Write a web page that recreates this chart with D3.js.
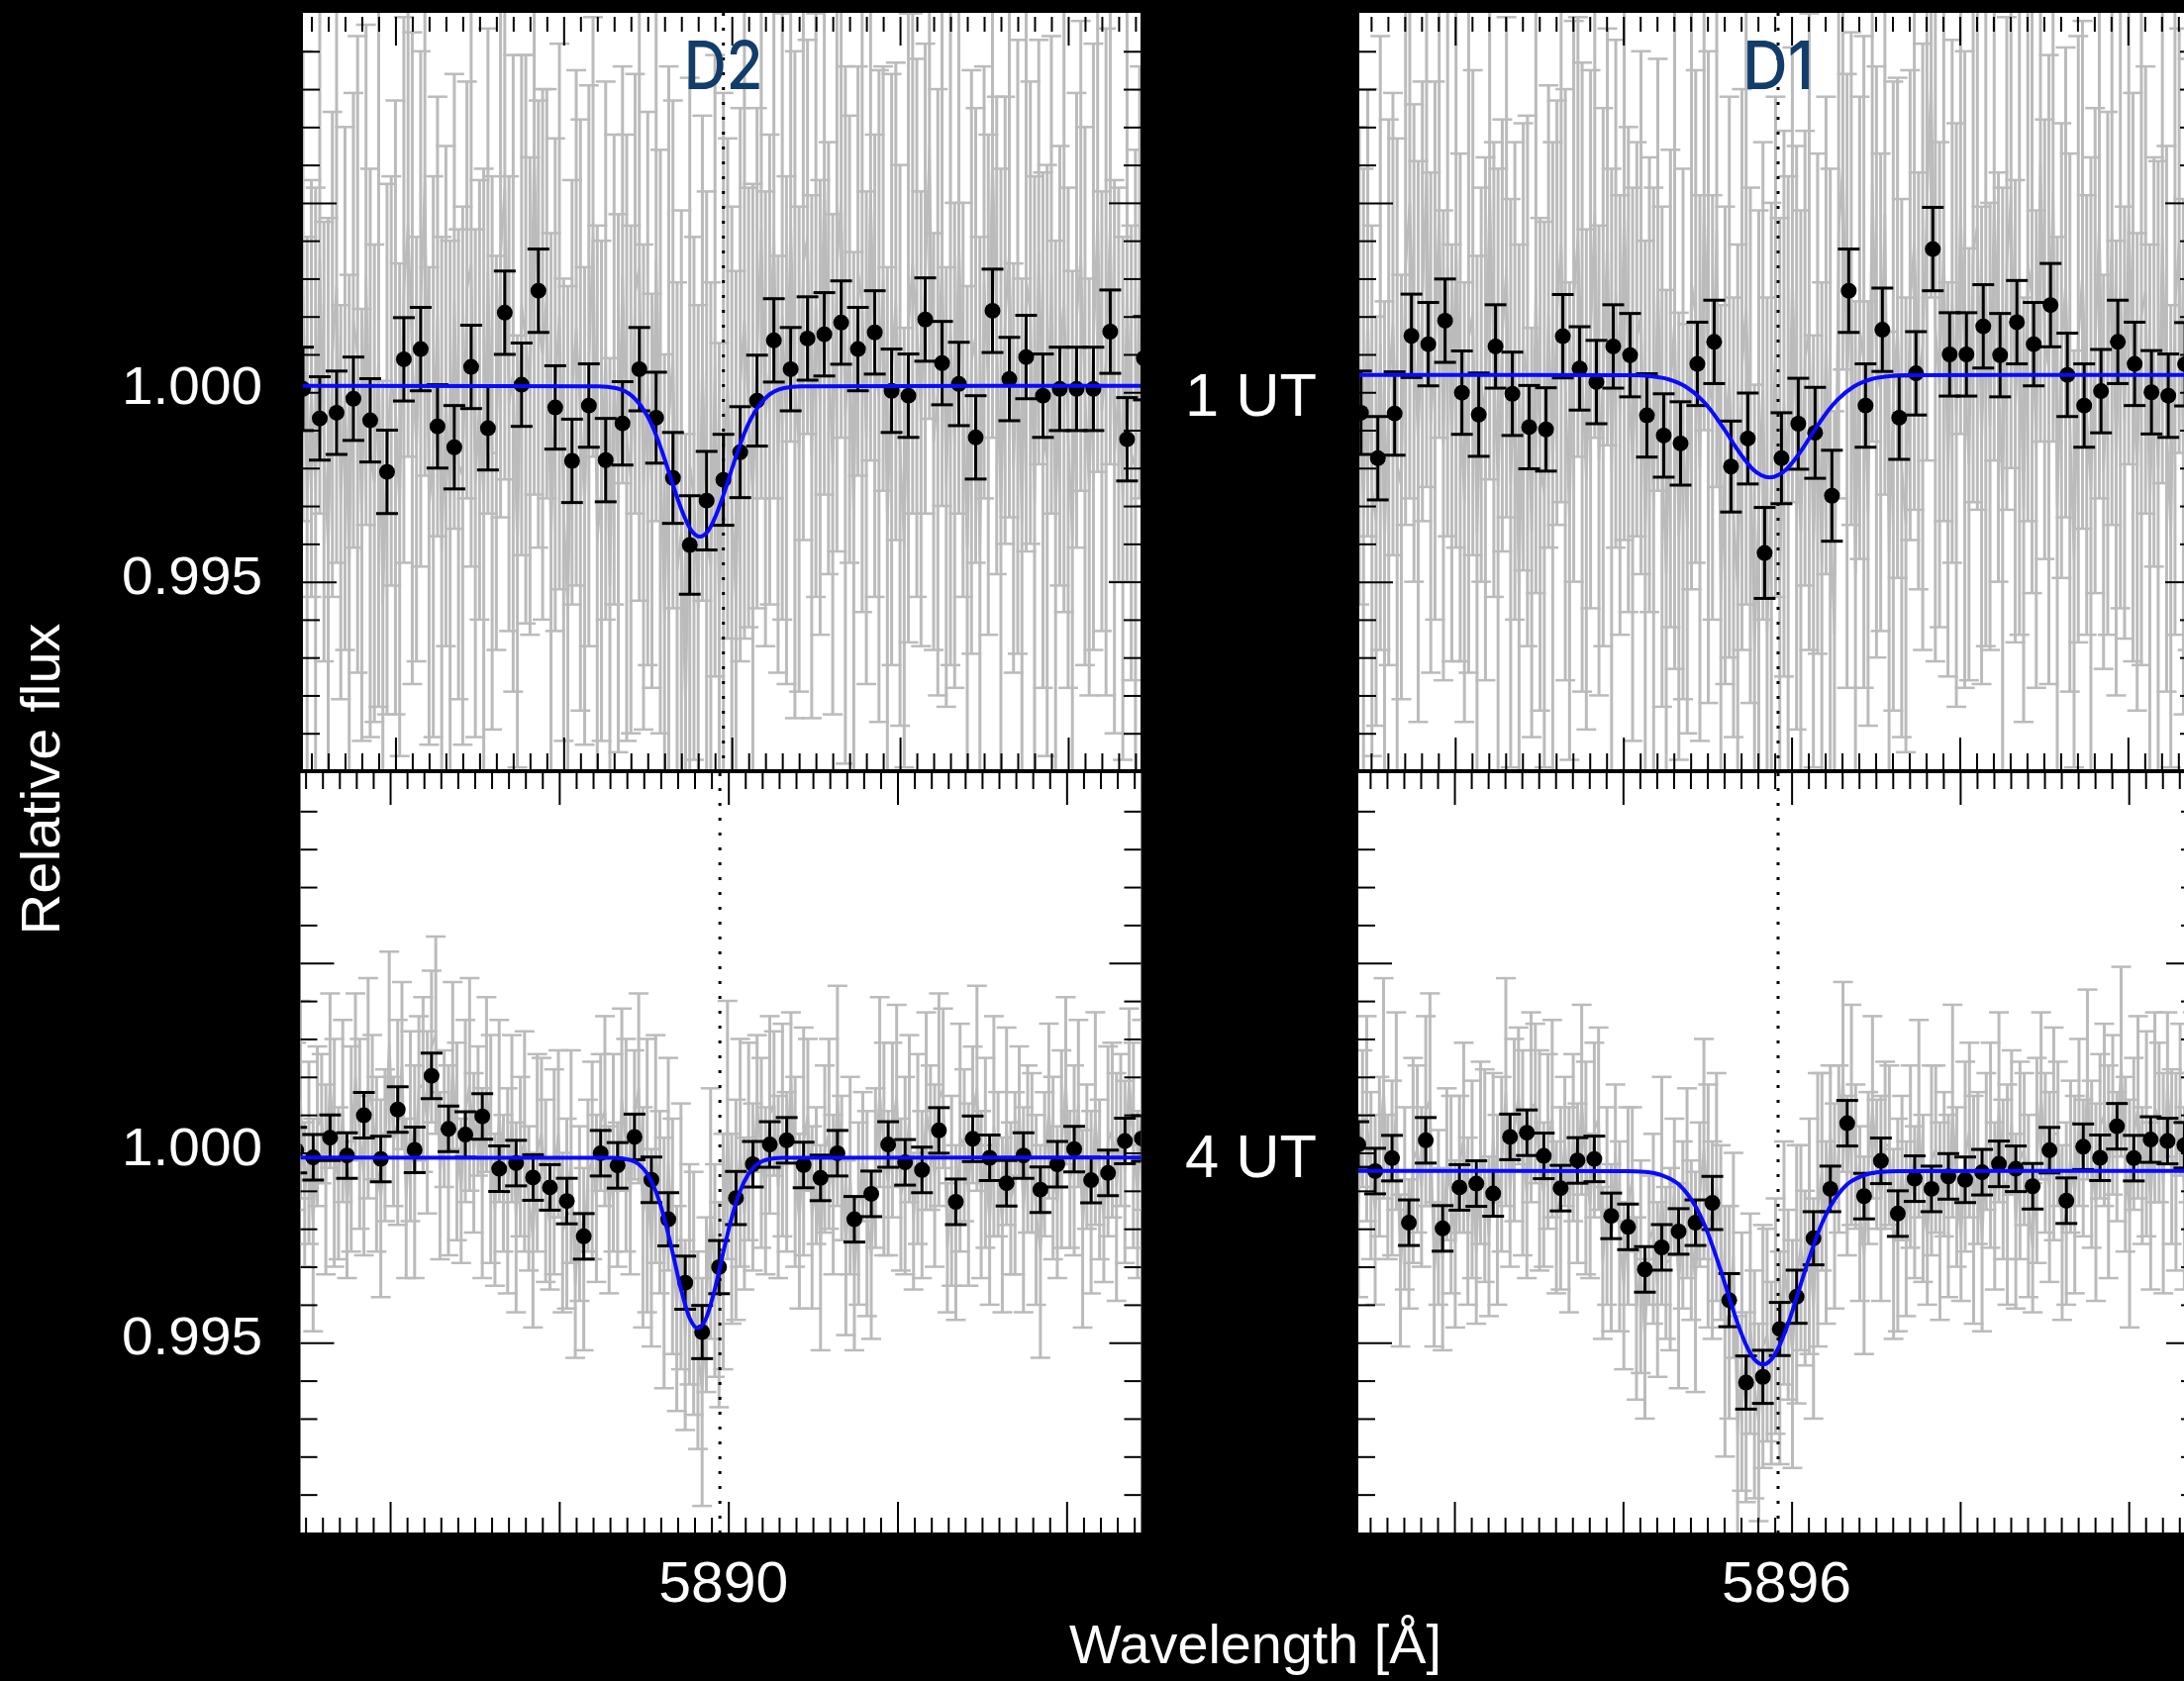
<!DOCTYPE html>
<html>
<head>
<meta charset="utf-8">
<script src="https://cdn.jsdelivr.net/npm/d3@7"></script>
<style>
  body { margin: 0; background: #000; }
</style>
</head>
<body>
<svg id="chart"></svg>
<script>
// flux values are deviations from 1 in units of 1e-4
const GRAY_STEP = 0.025;
const BIN_STEP = 0.1;

// binned points (black), one per 0.1 A
const binTL = [0.9,-6.9,-5.4,-1.7,-7.4,-21.0,8.7,11.4,-9.0,-14.5,6.7,-9.5,21.0,2.0,26.8,-4.0,-18.1,-3.5,-17.9,-8.2,6.1,-6.7,-22.6,-40.3,-28.6,-23.1,-15.8,-2.2,13.7,6.1,14.2,15.3,18.4,11.4,15.8,0.4,-0.9,19.2,7.7,2.2,-11.9,21.5,3.5,9.3,-0.9,0.9,0.9,0.9,16.0,-12.4,9.0];
const binTR = [-5.4,-17.4,-5.6,14.9,12.7,18.9,-0.1,-5.9,12.1,-0.4,-9.2,-9.8,14.8,6.3,2.7,12.1,9.8,-6.1,-11.4,-13.5,7.5,13.3,-19.6,-12.2,-42.4,-17.4,-8.3,-10.7,-27.3,26.8,-3.5,16.5,-6.7,5.0,37.8,10.0,10.0,17.4,9.8,18.5,12.7,23.0,4.6,-3.5,0.3,13.3,7.5,0,-0.9,7.4,3];
const binBL = [0.7,-1.2,4.0,-0.7,9.9,-1.6,11.4,0.8,20.3,6.3,4.8,9.6,-4.2,-2.7,-6.5,-9.1,-12.7,-22.0,-0.1,-3.3,4.2,-7.1,-17.5,-34.2,-47.2,-30.1,-11.9,-3.0,2.2,3.3,-3.2,-6.6,-0.1,-17.5,-10.8,2.2,-2.5,-4.5,5.9,-12.9,3.7,-1.3,-8.0,-0.7,-9.7,-3.0,1.0,-7.2,-5.3,3.1,3.8];
const binBR = [2.2,-4.8,-1.4,-18.4,3.3,-19.9,-9.1,-8.1,-10.7,4.2,5.3,-0.8,-9.3,-2.0,-1.6,-16.6,-19.5,-30.7,-24.9,-20.7,-18.4,-13.2,-38.8,-60.5,-59.0,-46.4,-37.9,-22.5,-9.5,7.8,-11.4,-2.1,-16.0,-6.8,-9.5,-6.2,-7.1,-5.1,-2.9,-4.2,-8.8,0.7,-12.6,1.6,-1.3,7.0,-1.4,3.5,3.1,2,0];

const binErrTL = [11,11,11,11,11,11,11,11,11,11,11,11,11,11,11,11,11,11,11,11,11,12,12,13,13,12,12,12,11,11,11,11,11,11,11,11,11,11,11,11,11,11,11,11,11,11,11,11,11,11,11];
const binErrTR = [11,11,11,11,11,11,11,11,11,11,11,11,11,11,11,11,11,11,11,11,11,11,12,12,12,12,12,12,12,11,11,11,11,11,11,11,11,11,11,11,11,11,11,11,11,11,11,11,11,11,11];
const binErrBL = [6,6,6,6,6,6,6,6,6,6,6,6,6,6,6,6,6,6,6,6,6,6,7,7,7,7,7,6,6,6,6,6,6,6,6,6,6,6,6,6,6,6,6,6,6,6,6,6,6,6,6];
const binErrBR = [6,6,6,6,6,6,6,6,6,6,6,6,6,6,6,6,6,6,6,6,6,7,7,7,7,7,7,7,6,6,6,6,6,6,6,6,6,6,6,6,6,6,6,6,6,6,6,6,6,6,6];

// unbinned points (gray), one per 0.025 A
const grayTL = [28,-30,1,-26,35,-13,-42,10,28,-29,1,-46,19,10,-35,31,-16,-24,9,-56,-15,3,-4,-31,27,44,9,-15,22,56,-30,-17,20,-42,-1,-31,24,-19,-22,27,34,-24,-2,-29,32,-16,-16,36,54,-3,5,-42,23,14,-1,65,18,10,26,-39,2,20,-31,-58,0,17,-6,-30,7,41,-39,-26,11,-51,6,-24,31,-12,-23,26,33,-25,1,-26,35,-13,-60,-8,10,-47,-37,-84,-19,-28,-57,9,-38,-46,7,-58,-17,1,-29,-56,2,19,-4,-28,9,43,-7,6,43,-19,20,-10,45,2,-15,34,41,-17,23,-4,57,9,-19,33,51,-6,14,-33,32,23,-12,54,7,-1,30,-35,6,24,-14,-41,17,34,17,-7,30,64,-13,0,37,-25,16,-14,41,-2,-41,8,15,-43,29,2,63,15,-33,19,37,-20,12,-35,30,21,-29,37,-10,-18,31,-34,7,25,-12,-39,19,36,-1,-25,12,46,-5,8,45,-17,2,-28,27,-16,-20,29,36];
const grayErrTL = [62,71,55,80,67,58,88,64,73,52,69,77,60,84,57,66,75,63,92,59,70,54,81,65,72,61,86,56,68,78,63,74,58,83,66,71,60,
  62,71,55,80,67,58,88,64,73,52,69,77,60,84,57,66,75,63,92,59,70,54,81,65,72,61,86,56,68,78,63,74,58,83,66,71,60,
  62,71,55,80,67,58,88,64,73,52,69,77,70,94,67,76,85,73,102,69,80,64,91,75,82,71,96,66,78,88,73,84,58,83,66,71,60,
  62,71,55,80,67,58,88,64,73,52,69,77,60,84,57,66,75,63,92,59,70,54,81,65,72,61,86,56,68,78,63,74,58,83,66,71,60,
  62,71,55,80,67,58,88,64,73,52,69,77,60,84,57,66,75,63,92,59,70,54,81,65,72,61,86,56,68,78,63,74,58,83,66,71,60,
  62,71,55,80,67,58,88,64,73,52,69,77,60,84,57,66];

const grayTR = [7,-33,21,-26,-34,13,-41,0,18,-19,-25,33,50,13,-13,24,58,-8,11,48,-14,33,-16,39,-4,-29,14,21,-37,2,-7,54,6,-25,15,33,-24,3,-53,12,3,-37,28,-19,-27,20,-20,21,39,2,-34,24,41,4,-23,14,48,-18,4,41,-21,26,-6,49,6,-19,14,21,-37,2,-30,31,-17,-48,1,19,-38,-11,-36,29,20,-20,51,4,-4,43,-55,-14,4,-33,-52,6,23,-14,-68,-31,3,-63,-25,12,-50,-3,-24,31,-12,-37,9,16,-42,-3,-46,15,-33,-64,42,60,3,30,-48,17,8,-32,55,8,0,47,-42,-1,17,-20,-35,23,40,3,12,49,83,17,2,39,-23,24,-6,49,6,-19,37,44,-14,25,-9,52,4,-27,34,52,-5,22,-31,34,25,-15,61,14,6,53,-30,11,29,-8,-44,14,31,-6,-26,11,45,-21,5,42,-20,27,-8,47,4,-21,20,27,-31,8,-20,41,-7,-38,22,40,-17,10,-41,24,15];
const grayErrTR = [63,92,59,70,54,81,65,72,61,86,56,68,78,63,74,58,83,66,71,60,
  62,71,55,80,67,58,88,64,73,52,69,77,60,84,57,66,75,63,92,59,70,54,81,65,72,61,86,56,68,78,63,74,58,83,66,71,60,
  62,71,55,80,67,58,88,64,73,52,69,77,60,84,57,66,75,63,92,59,70,54,81,65,72,61,86,56,68,78,63,74,58,91,74,79,68,
  70,79,63,88,75,66,96,72,81,60,77,85,60,84,57,66,75,63,92,59,70,54,81,65,72,61,86,56,68,78,63,74,58,83,66,71,60,
  62,71,55,80,67,58,88,64,73,52,69,77,60,84,57,66,75,63,92,59,70,54,81,65,72,61,86,56,68,78,63,74,58,83,66,71,60,
  62,71,55,80,67,58,88,64,73,52,69,77,60,84,57,66,75,63,92,59,70,54,81,65,72,61,86,56,68,78,63,74,58];

const grayBL = [7,14,-11,0,-19,7,9,-7,19,0,-8,11,-15,1,20,5,-6,17,12,-3,-12,2,29,3,8,23,-12,7,-5,17,18,8,28,31,-6,9,-2,23,3,-10,11,18,0,11,-8,18,1,-15,11,-8,-10,9,-17,-1,3,-12,-23,0,5,-10,-19,-5,5,-21,-16,-1,-35,-16,-28,-6,-2,-12,8,11,-15,0,-11,14,2,-11,10,17,-17,-6,-25,1,-13,-29,-3,-22,-41,-22,-48,-32,-37,-52,-63,-40,-16,-31,-40,-26,6,-20,-15,0,-16,3,-9,13,0,-10,10,13,-9,6,-5,20,-5,-18,3,10,-17,-6,-25,1,5,-11,15,-4,-25,-6,-32,-16,-1,-16,-27,-4,16,1,-8,6,15,-11,-6,9,-18,1,-11,11,4,-6,14,17,-25,-10,-21,4,2,-11,10,17,-11,0,-19,7,-3,-19,7,-12,-8,11,-15,1,0,-15,-26,-3,11,-4,-13,1,19,-7,-2,13,-20,-1,-13,9,-7,-17,3,6,-9,6,-5,20,2,-11,10];
const grayErrBL = [22,26,19,24,28,21,17,25,23,30,20,24,18,27,22,25,21,29,19,23,26,20,24,17,27,22,21,25,28,19,23,24,20,26,22,18,25,
  22,26,19,24,28,21,17,25,23,30,20,24,18,27,22,25,21,29,19,23,26,20,24,17,27,22,21,25,28,19,23,24,20,26,22,18,25,
  22,26,19,24,28,21,17,25,29,36,26,30,24,33,28,31,27,35,25,29,32,26,30,23,33,28,27,31,34,25,29,30,20,26,22,18,25,
  22,26,19,24,28,21,17,25,23,30,20,24,18,27,22,25,21,29,19,23,26,20,24,17,27,22,21,25,28,19,23,24,20,26,22,18,25,
  22,26,19,24,28,21,17,25,23,30,20,24,18,27,22,25,21,29,19,23,26,20,24,17,27,22,21,25,28,19,23,24,20,26,22,18,25,
  22,26,19,24,28,21,17,25,23,30,20,24,18,27,22,25];

const grayBR = [-14,9,9,-6,-15,-1,17,-9,-4,11,-31,-12,-24,-2,1,-9,11,14,-32,-17,-28,-3,-11,-24,-3,4,-18,-7,-26,0,-6,-22,4,-15,-3,16,-10,6,15,0,-11,12,13,-2,-11,3,9,-17,-12,3,-15,4,-8,14,-4,-14,6,9,-29,-14,-25,0,-22,-35,-14,-7,-41,-30,-49,-23,-20,-36,-10,-29,-28,-9,-35,-19,-8,-23,-34,-11,1,-14,-23,-9,-21,-47,-42,-27,-74,-55,-67,-45,-61,-71,-51,-48,-58,-43,-54,-29,-40,-53,-32,-25,-33,-22,-41,-15,-5,-21,5,-14,1,20,-6,10,-1,-16,-27,-4,12,-3,-12,2,2,-24,-19,-4,-20,-1,-13,9,-12,-22,-2,1,-18,-3,-14,11,-9,-22,-1,6,-15,-4,-23,3,2,-14,12,-7,-11,8,-18,-2,1,-14,-25,-2,15,0,-9,5,5,-21,-16,-1,-11,8,-4,18,-3,-13,7,10,-5,10,-1,24,-3,-16,5,12,-6,5,-14,12,8,-8,18,-1,-5,14,-12,4,10,-5,-16];
const grayErrBR = [24,18,27,22,25,21,29,19,23,26,20,24,17,27,22,21,25,28,19,23,24,20,26,22,18,25,
  22,26,19,24,28,21,17,25,23,30,20,24,18,27,22,25,21,29,19,23,26,20,24,17,27,22,21,25,28,19,23,24,20,26,22,18,25,
  22,26,19,24,28,21,17,25,23,30,20,24,18,27,22,25,21,29,19,29,32,26,30,23,33,28,27,31,34,25,29,30,26,32,28,24,31,
  28,32,25,30,34,27,23,31,29,36,26,24,18,27,22,25,21,29,19,23,26,20,24,17,27,22,21,25,28,19,23,24,20,26,22,18,25,
  22,26,19,24,28,21,17,25,23,30,20,24,18,27,22,25,21,29,19,23,26,20,24,17,27,22,21,25,28,19,23,24,20,26,22,18,25,
  22,26,19,24,28,21,17,25,23,30,20,24,18,27,22,25,21,29,19,23,26,20,24,17,27,22,21];

// fitted Gaussian model (blue), [wavelength, flux deviation]
const modelTL = [[5887.40,1.7],[5889.21,1.6],[5889.31,1.1],[5889.41,-1.1],[5889.46,-3.6],[5889.51,-7.3],[5889.56,-12.5],[5889.61,-18.9],[5889.66,-25.8],[5889.71,-32.0],[5889.76,-36.5],[5889.81,-38.1],[5889.86,-36.5],[5889.91,-32.0],[5889.96,-25.8],[5890.01,-18.9],[5890.06,-12.5],[5890.11,-7.3],[5890.16,-3.6],[5890.21,-1.1],[5890.31,1.1],[5890.41,1.6],[5892.50,1.7]];
const modelTR = [[5893.40,4.6],[5895.07,4.5],[5895.17,4.2],[5895.27,3.4],[5895.37,1.5],[5895.47,-2.1],[5895.52,-4.7],[5895.57,-7.8],[5895.62,-11.1],[5895.67,-14.6],[5895.72,-17.7],[5895.77,-20.3],[5895.82,-21.9],[5895.87,-22.5],[5895.92,-21.9],[5895.97,-20.3],[5896.02,-17.7],[5896.07,-14.6],[5896.12,-11.1],[5896.17,-7.8],[5896.22,-4.7],[5896.27,-2.1],[5896.37,1.5],[5896.47,3.4],[5896.57,4.2],[5896.67,4.5],[5898.50,4.6]];
const modelBL = [[5887.40,-1.25],[5889.32,-1.3],[5889.42,-1.9],[5889.47,-3.0],[5889.52,-5.5],[5889.57,-10.0],[5889.62,-17.0],[5889.67,-26.2],[5889.72,-35.9],[5889.77,-43.4],[5889.82,-46.2],[5889.87,-43.4],[5889.92,-35.9],[5889.97,-26.2],[5890.02,-17.0],[5890.07,-10.0],[5890.12,-5.5],[5890.17,-3.0],[5890.22,-1.9],[5890.32,-1.3],[5892.50,-1.25]];
const modelBR = [[5893.40,-4.75],[5895.03,-4.8],[5895.13,-5.0],[5895.23,-5.9],[5895.33,-8.3],[5895.43,-14.1],[5895.48,-18.6],[5895.53,-24.4],[5895.58,-31.0],[5895.63,-38.1],[5895.68,-44.9],[5895.73,-50.6],[5895.78,-54.4],[5895.83,-55.75],[5895.88,-54.4],[5895.93,-50.6],[5895.98,-44.9],[5896.03,-38.1],[5896.08,-31.0],[5896.13,-24.4],[5896.18,-18.6],[5896.23,-14.1],[5896.33,-8.3],[5896.43,-5.9],[5896.53,-5.0],[5896.63,-4.8],[5898.50,-4.75]];

// labels
const lineNames = ["D2", "D1"];
const lineCenters = [5889.95, 5895.92];
const epochLabels = ["1 UT", "4 UT"];
const yTickLabels = [1.000, 0.995];
const xTickLabels = [5890, 5896];

const W = 2206, H = 1698;
const svg = d3.select("#chart").attr("width", W).attr("height", H);
svg.append("rect").attr("width", W).attr("height", H).attr("fill", "#000");
const defs = svg.append("defs");

const panels = [
  { id: "TL", x0: 306, x1: 1152, y0: 13, y1: 777, yr: [779, 13.5], lam: [5887.45, 5892.43], line: lineCenters[0],
    binStart: 5887.45, gStart: 5887.45, bins: binTL, binErr: binErrTL, gray: grayTL, grayErr: grayErrTL, model: modelTL, top: true },
  { id: "TR", x0: 1373, x1: 2219, y0: 13, y1: 777, yr: [779, 13.5], lam: [5893.43, 5898.41], line: lineCenters[1],
    binStart: 5893.44, gStart: 5893.43, bins: binTR, binErr: binErrTR, gray: grayTR, grayErr: grayErrTR, model: modelTR, top: true },
  { id: "BL", x0: 303.5, x1: 1152.5, y0: 781, y1: 1548, yr: [1548, 781], lam: [5887.47, 5892.44], line: lineCenters[0],
    binStart: 5887.445, gStart: 5887.445, bins: binBL, binErr: binErrBL, gray: grayBL, grayErr: grayErrBL, model: modelBL, top: false },
  { id: "BR", x0: 1372, x1: 2220, y0: 781, y1: 1548, yr: [1548, 781], lam: [5893.43, 5898.41], line: lineCenters[1],
    binStart: 5893.43, gStart: 5893.43, bins: binBR, binErr: binErrBR, gray: grayBR, grayErr: grayErrBR, model: modelBR, top: false }
];

const flux = v => 1 + v * 1e-4;
const GRAY = "#bbbbbb";

panels.forEach(p => {
  const x = d3.scaleLinear().domain(p.lam).range([p.x0, p.x1]);
  const y = d3.scaleLinear().domain([0.990, 1.010]).range(p.yr);
  p.x = x; p.y = y;

  svg.append("rect")
    .attr("x", p.x0).attr("y", p.y0)
    .attr("width", p.x1 - p.x0).attr("height", p.y1 - p.y0)
    .attr("fill", "#fff");

  defs.append("clipPath").attr("id", "clip-" + p.id)
    .append("rect")
    .attr("x", p.x0).attr("y", p.y0)
    .attr("width", p.x1 - p.x0).attr("height", p.y1 - p.y0);

  const g = svg.append("g").attr("clip-path", `url(#clip-${p.id})`);

  const gray = p.gray.map((v, i) => ({ lam: p.gStart + i * GRAY_STEP, v, e: p.grayErr[i] }));
  const bins = p.bins.map((v, i) => ({ lam: p.binStart + i * BIN_STEP, v, e: p.binErr[i] }));

  // gray error bars
  const gb = g.append("g").attr("stroke", GRAY).attr("stroke-width", 3);
  gb.selectAll("line.bar").data(gray).join("line").attr("class", "bar")
    .attr("x1", d => x(d.lam)).attr("x2", d => x(d.lam))
    .attr("y1", d => y(flux(d.v - d.e))).attr("y2", d => y(flux(d.v + d.e)));
  gb.selectAll("line.capHi").data(gray).join("line").attr("class", "capHi")
    .attr("stroke-width", 2.5)
    .attr("x1", d => x(d.lam) - 10).attr("x2", d => x(d.lam) + 10)
    .attr("y1", d => y(flux(d.v + d.e))).attr("y2", d => y(flux(d.v + d.e)));
  gb.selectAll("line.capLo").data(gray).join("line").attr("class", "capLo")
    .attr("stroke-width", 2.5)
    .attr("x1", d => x(d.lam) - 10).attr("x2", d => x(d.lam) + 10)
    .attr("y1", d => y(flux(d.v - d.e))).attr("y2", d => y(flux(d.v - d.e)));

  g.append("path")
    .datum(gray)
    .attr("fill", "none").attr("stroke", GRAY).attr("stroke-width", 2.5)
    .attr("d", d3.line().x(d => x(d.lam)).y(d => y(flux(d.v))));

  // dotted rest wavelength
  g.append("line")
    .attr("x1", x(p.line)).attr("x2", x(p.line))
    .attr("y1", p.y0).attr("y2", p.y1)
    .attr("stroke", "#000").attr("stroke-width", 3)
    .attr("stroke-dasharray", "3,12");

  // binned points
  const bb = g.append("g").attr("stroke", "#000").attr("stroke-width", 3);
  bb.selectAll("line.bar").data(bins).join("line").attr("class", "bar")
    .attr("x1", d => x(d.lam)).attr("x2", d => x(d.lam))
    .attr("y1", d => y(flux(d.v - d.e))).attr("y2", d => y(flux(d.v + d.e)));
  bb.selectAll("line.capHi").data(bins).join("line").attr("class", "capHi")
    .attr("x1", d => x(d.lam) - 11).attr("x2", d => x(d.lam) + 11)
    .attr("y1", d => y(flux(d.v + d.e))).attr("y2", d => y(flux(d.v + d.e)));
  bb.selectAll("line.capLo").data(bins).join("line").attr("class", "capLo")
    .attr("x1", d => x(d.lam) - 11).attr("x2", d => x(d.lam) + 11)
    .attr("y1", d => y(flux(d.v - d.e))).attr("y2", d => y(flux(d.v - d.e)));
  g.append("g").selectAll("circle").data(bins).join("circle")
    .attr("cx", d => x(d.lam)).attr("cy", d => y(flux(d.v)))
    .attr("r", 8).attr("fill", "#000");

  // model
  g.append("path")
    .datum(p.model)
    .attr("fill", "none").attr("stroke", "#0a0aff").attr("stroke-width", 4)
    .attr("d", d3.line().curve(d3.curveMonotoneX).x(d => x(d[0])).y(d => y(flux(d[1]))));

  // axes: minor every 0.1 A, major every 1 A
  const lo = Math.ceil(p.lam[0] * 10 + 1e-6), hi = Math.floor(p.lam[1] * 10 - 1e-6);
  const minorX = d3.range(lo, hi + 1).filter(t => t % 10 !== 0).map(t => t / 10);
  const majorX = d3.range(lo, hi + 1).filter(t => t % 10 === 0).map(t => t / 10);
  const minorY = d3.range(991, 1010).filter(t => t !== 995 && t !== 1005).map(t => t / 1000);
  const majorY = [0.995, 1.005];

  const styleAxis = sel => sel
    .call(a => a.select(".domain").remove())
    .call(a => a.selectAll("line").attr("stroke", "#000").attr("stroke-width", 2));

  const topY = p.top ? p.y0 + 4 : p.y0;
  const botY = p.y1;
  const topLen = p.top ? [15, 29] : [16, 32];
  const botLen = p.top ? [16, 32] : [15, 31];

  svg.append("g").attr("transform", `translate(0,${topY})`)
    .call(d3.axisTop(x).tickValues(minorX).tickSize(-topLen[0]).tickFormat("")).call(styleAxis);
  svg.append("g").attr("transform", `translate(0,${topY})`)
    .call(d3.axisTop(x).tickValues(majorX).tickSize(-topLen[1]).tickFormat("")).call(styleAxis);
  svg.append("g").attr("transform", `translate(0,${botY})`)
    .call(d3.axisBottom(x).tickValues(minorX).tickSize(-botLen[0]).tickFormat("")).call(styleAxis);
  svg.append("g").attr("transform", `translate(0,${botY})`)
    .call(d3.axisBottom(x).tickValues(majorX).tickSize(-botLen[1]).tickFormat("")).call(styleAxis);

  svg.append("g").attr("transform", `translate(${p.x0},0)`)
    .call(d3.axisLeft(y).tickValues(minorY).tickSize(-17).tickFormat("")).call(styleAxis);
  svg.append("g").attr("transform", `translate(${p.x0},0)`)
    .call(d3.axisLeft(y).tickValues(majorY).tickSize(-34).tickFormat("")).call(styleAxis);
  svg.append("g").attr("transform", `translate(${p.x1},0)`)
    .call(d3.axisRight(y).tickValues(minorY).tickSize(-17).tickFormat("")).call(styleAxis);
  svg.append("g").attr("transform", `translate(${p.x1},0)`)
    .call(d3.axisRight(y).tickValues(majorY).tickSize(-32).tickFormat("")).call(styleAxis);
});

const font = "'Liberation Sans', Arial, Helvetica, sans-serif";

// y tick labels, left column
[panels[0], panels[2]].forEach(p => {
  svg.append("g").selectAll("text").data(yTickLabels).join("text")
    .attr("x", 265).attr("y", d => p.y(d) + 12)
    .attr("text-anchor", "end")
    .attr("font-family", font).attr("font-size", 54).attr("fill", "#fff")
    .attr("textLength", 142).attr("lengthAdjust", "spacingAndGlyphs")
    .text(d => d3.format(".3f")(d));
});

// epoch labels between the columns
[panels[0], panels[2]].forEach((p, i) => {
  svg.append("text")
    .attr("x", 1197).attr("y", p.y(1.000) + 24)
    .attr("font-family", font).attr("font-size", 62).attr("fill", "#fff")
    .attr("textLength", 133).attr("lengthAdjust", "spacingAndGlyphs")
    .text(epochLabels[i]);
});

// line names
[panels[0], panels[1]].forEach((p, i) => {
  svg.append("text")
    .attr("x", p.x(lineCenters[i])).attr("y", 89.5)
    .attr("text-anchor", "middle")
    .attr("font-family", "Inter, 'Noto Sans', sans-serif").attr("font-weight", 500)
    .attr("font-size", 67).attr("fill", "#123d6b")
    .attr("textLength", i === 0 ? 80 : 72).attr("lengthAdjust", "spacingAndGlyphs")
    .text(lineNames[i]);
});

// x tick labels
[panels[2], panels[3]].forEach((p, i) => {
  svg.append("text")
    .attr("x", p.x(xTickLabels[i]) - 5).attr("y", 1618)
    .attr("text-anchor", "middle")
    .attr("font-family", font).attr("font-size", 57).attr("fill", "#fff")
    .attr("textLength", 131).attr("lengthAdjust", "spacingAndGlyphs")
    .text(xTickLabels[i]);
});

svg.append("text")
  .attr("x", 1268).attr("y", 1680)
  .attr("text-anchor", "middle")
  .attr("font-family", font).attr("font-size", 56).attr("fill", "#fff")
  .attr("textLength", 376).attr("lengthAdjust", "spacingAndGlyphs")
  .text("Wavelength [Å]");

svg.append("text")
  .attr("transform", "translate(60,787) rotate(-90)")
  .attr("text-anchor", "middle")
  .attr("font-family", font).attr("font-size", 56).attr("fill", "#fff")
  .attr("textLength", 315).attr("lengthAdjust", "spacingAndGlyphs")
  .text("Relative flux");
</script>
</body>
</html>
